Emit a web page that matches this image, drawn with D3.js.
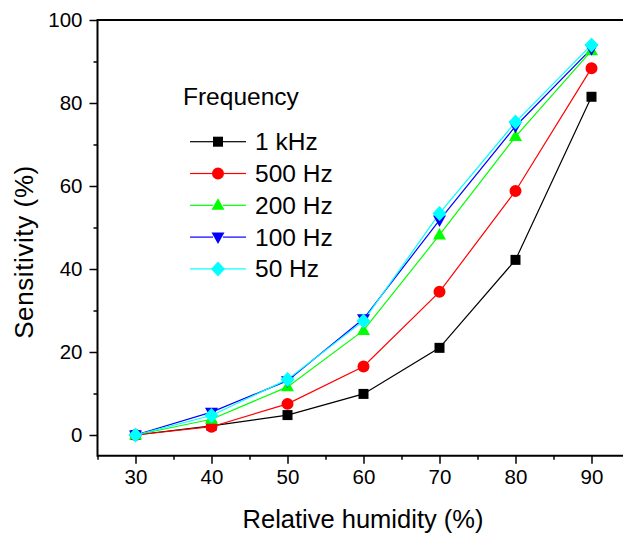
<!DOCTYPE html>
<html><head><meta charset="utf-8">
<script src="https://cdn.jsdelivr.net/npm/d3@7"></script>
<style>
html,body{margin:0;padding:0;background:#fff;}
svg{display:block;font-family:"Liberation Sans",Arial,sans-serif;}
</style></head>
<body>
<svg id="chart" width="623" height="535"></svg>
<script>
const humidity = [30, 40, 50, 60, 70, 80, 90];
const seriesNames = ["1 kHz", "500 Hz", "200 Hz", "100 Hz", "50 Hz"];
const s1kHz  = [0, 2.2, 4.8, 9.9, 21.0, 42.2, 81.5];
const s500Hz = [0, 2.0, 7.5, 16.5, 34.5, 58.8, 88.4];
const s200Hz = [0, 3.8, 11.6, 25.2, 48.2, 71.9, 92.6];
const s100Hz = [0, 5.5, 13.1, 28.0, 51.8, 74.4, 93.1];
const s50Hz  = [0, 4.7, 13.4, 27.5, 53.4, 75.4, 94.0];
const xTicks = [30, 40, 50, 60, 70, 80, 90];
const xMinor = [25, 35, 45, 55, 65, 75, 85, 95];
const yTicks = [0, 20, 40, 60, 80, 100];
const yMinor = [10, 30, 50, 70, 90];
const legendTitle = "Frequency";
const xTitle = "Relative humidity (%)";
const yTitle = "Sensitivity (%)";

const colors = ["#000000", "#ff0000", "#00ff00", "#0000ff", "#00ffff"];
const shapes = ["square", "circle", "triangle", "triangleDown", "diamond"];
const allSeries = [s1kHz, s500Hz, s200Hz, s100Hz, s50Hz];

const svg = d3.select("#chart");
const x = d3.scaleLinear().domain([25, 95]).range([97.5, 629.5]);
const y = d3.scaleLinear().domain([-5, 100]).range([455.75, 20]);

function markerPath(shape) {
  switch (shape) {
    case "square": return "M-5,-5H5V5H-5Z";
    case "circle": return d3.symbol(d3.symbolCircle, 113)();
    case "triangle": return "M0,-7L6.5,4.5H-6.5Z";
    case "triangleDown": return "M0,7L6.5,-4.5H-6.5Z";
    case "diamond": return "M0,-7.5L7,0L0,7.5L-7,0Z";
  }
}

// data lines and markers
const line = d3.line().x((d, i) => x(humidity[i])).y(d => y(d));
allSeries.forEach((vals, k) => {
  svg.append("path").attr("d", line(vals)).attr("fill", "none")
    .attr("stroke", colors[k]).attr("stroke-width", 1.2);
});
allSeries.forEach((vals, k) => {
  svg.append("g").selectAll("path").data(vals).join("path")
    .attr("transform", (d, i) => `translate(${x(humidity[i])},${y(d)})`)
    .attr("d", markerPath(shapes[k])).attr("fill", colors[k]);
});

// frame
const x0 = x(25), x1 = x(95), yTop = y(100), yBot = y(-5);
svg.append("path").attr("d", `M${x0},${yBot}V${yTop}H${x1}V${yBot}Z`)
  .attr("fill", "none").attr("stroke", "#000").attr("stroke-width", 2);

// axes
const gx = svg.append("g").attr("transform", `translate(0,${yBot})`)
  .call(d3.axisBottom(x).tickValues(xTicks).tickSize(8).tickSizeOuter(0).tickPadding(6));
const gxm = svg.append("g").attr("transform", `translate(0,${yBot})`)
  .call(d3.axisBottom(x).tickValues(xMinor).tickSize(4).tickSizeOuter(0).tickFormat(""));
const gy = svg.append("g").attr("transform", `translate(${x0},0)`)
  .call(d3.axisLeft(y).tickValues(yTicks).tickSize(8).tickSizeOuter(0).tickPadding(7));
const gym = svg.append("g").attr("transform", `translate(${x0},0)`)
  .call(d3.axisLeft(y).tickValues(yMinor).tickSize(4).tickSizeOuter(0).tickFormat(""));
[gx, gxm, gy, gym].forEach(g => {
  g.select(".domain").remove();
  g.selectAll("line").attr("stroke", "#000").attr("stroke-width", 1.5);
  g.selectAll("text").attr("font-size", 20.5).attr("fill", "#000")
    .attr("font-family", '"Liberation Sans", Arial, sans-serif');
});

// titles
svg.append("text").attr("x", 363).attr("y", 528)
  .attr("text-anchor", "middle").attr("font-size", 25.5).text(xTitle);
svg.append("text").attr("transform", `translate(33,252) rotate(-90)`)
  .attr("text-anchor", "middle").attr("font-size", 26).attr("letter-spacing", 0.6).text(yTitle);

// legend
svg.append("text").attr("x", 183).attr("y", 104.5).attr("font-size", 24.5).text(legendTitle);
seriesNames.forEach((name, k) => {
  const cy = 141.7 + k * 31.8;
  const g = svg.append("g");
  g.append("line").attr("x1", 190).attr("x2", 213).attr("y1", cy).attr("y2", cy)
    .attr("stroke", colors[k]).attr("stroke-width", 1.2);
  g.append("line").attr("x1", 223).attr("x2", 246).attr("y1", cy).attr("y2", cy)
    .attr("stroke", colors[k]).attr("stroke-width", 1.2);
  g.append("path").attr("transform", `translate(218,${cy})`).attr("d", markerPath(shapes[k]))
    .attr("fill", colors[k]);
  g.append("text").attr("x", 255).attr("y", cy + 8.5).attr("font-size", 24.5).text(name);
});
</script>
</body></html>
